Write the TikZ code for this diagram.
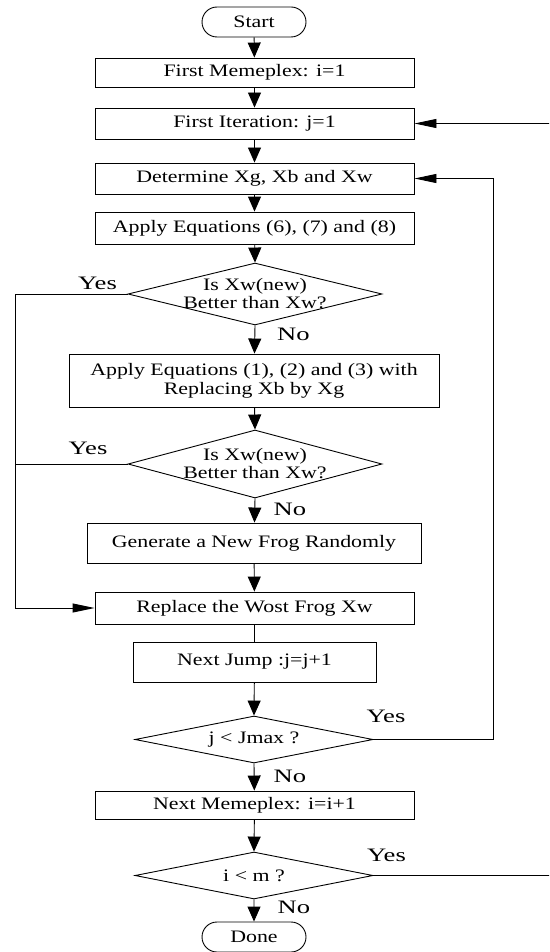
\documentclass[tikz,border=0pt]{standalone}
\usepackage{fontspec}
\setmainfont[FakeStretch=1.25]{Liberation Serif}
\newfontfamily\lblfont[FakeStretch=1.4]{Liberation Serif}
\usetikzlibrary{arrows.meta,shapes.geometric,shapes.misc}
\begin{document}
\begin{tikzpicture}[x=1pt,y=-1pt,
  box/.style={draw,line width=0.9pt,rectangle,inner sep=0pt,align=center,font=\fontsize{17.5}{19}\selectfont},
  term/.style={draw,line width=0.9pt,rounded rectangle,minimum width=104pt,minimum height=30pt,inner sep=0pt,font=\fontsize{17.5}{19}\selectfont},
  dia/.style={draw,line width=0.9pt,diamond,inner sep=0pt},
  diatext/.style={inner sep=0pt,align=center,font=\fontsize{17.5}{18}\selectfont},
  varrow/.style={line width=0.9pt,-{Triangle[length=15pt,width=13pt]}},
  harrow/.style={line width=0.9pt,-{Triangle[length=22pt,width=9pt]}},
  plain/.style={line width=0.9pt},
  lbl/.style={inner sep=0pt,font=\lblfont\fontsize{19}{21}\selectfont}]
\useasboundingbox (0,0) rectangle (549,952);
\clip (0,0) rectangle (549,952);

\node[term] (start) at (254,22) {Start};
\node[box,minimum width=319pt,minimum height=29pt] (b1) at (254.5,72.5) {First Memeplex: i=1};
\node[box,minimum width=319pt,minimum height=31pt] (b2) at (254.5,123.5) {First Iteration: j=1};
\node[box,minimum width=319pt,minimum height=31pt] (b3) at (254.5,178.5) {Determine Xg, Xb and Xw};
\node[box,minimum width=319pt,minimum height=32pt] (b4) at (254.5,228) {Apply Equations (6), (7) and (8)};
\node[dia,minimum width=254pt,minimum height=62pt] (d1) at (255,294) {};
\node[diatext] (d1t) at (255,294) {Is Xw(new)\\Better than Xw?};
\node[box,minimum width=370pt,minimum height=53pt] (b5) at (254,380.5) {Apply Equations (1), (2) and (3) with\\Replacing Xb by Xg};
\node[dia,minimum width=254pt,minimum height=68pt] (d2) at (255,464) {};
\node[diatext] (d2t) at (255,464) {Is Xw(new)\\Better than Xw?};
\node[box,minimum width=334pt,minimum height=40pt] (b6) at (254,543) {Generate a New Frog Randomly};
\node[box,minimum width=319pt,minimum height=32pt] (b7) at (254.5,608) {Replace the Wost Frog Xw};
\node[box,minimum width=243pt,minimum height=40pt] (b8) at (254.5,662) {Next Jump :j=j+1};
\node[dia,minimum width=238pt,minimum height=47pt] (d3) at (254,739.5) {};
\node[diatext] (d3t) at (254,739.5) {j < Jmax ?};
\node[box,minimum width=319pt,minimum height=28pt] (b9) at (254.5,805) {Next Memeplex: i=i+1};
\node[dia,minimum width=238pt,minimum height=47pt] (d4) at (254,875.5) {};
\node[diatext] (d4t) at (254,875.5) {i < m ?};
\node[term] (done) at (254,937) {Done};

\draw[varrow] (start) -- (b1);
\draw[varrow] (b1) -- (b2);
\draw[varrow] (b2) -- (b3);
\draw[varrow] (b3) -- (b4);
\draw[varrow] (b4) -- (d1.north);
\draw[varrow] (d1.south) -- (b5);
\draw[varrow] (b5) -- (d2.north);
\draw[varrow] (d2.south) -- (b6);
\draw[varrow] (b6) -- (b7);
\draw[plain] (b7) -- (b8);
\draw[varrow] (b8) -- (d3.north);
\draw[varrow] (d3.south) -- (b9);
\draw[varrow] (b9) -- (d4.north);
\draw[varrow] (d4.south) -- (done);

\coordinate (lt) at (15,294);
\coordinate (lm) at (15,464);
\coordinate (rt) at (493,739.5);
\coordinate (fr) at (570,875.5);
\draw[harrow] (d1.west) -- (lt) |- (b7.west);
\draw[plain] (d2.west) -- (lm);
\draw[harrow] (d3.east) -- (rt) |- (b3.east);
\draw[harrow] (d4.east) -- (fr) |- (b2.east);

\node[lbl] at (97.5,283) {Yes};
\node[lbl] at (88,448) {Yes};
\node[lbl] at (386,716) {Yes};
\node[lbl] at (386.5,855) {Yes};
\node[lbl] at (293.5,334) {No};
\node[lbl] at (290,509.5) {No};
\node[lbl] at (290,776) {No};
\node[lbl] at (294,907.5) {No};
\end{tikzpicture}
\end{document}
